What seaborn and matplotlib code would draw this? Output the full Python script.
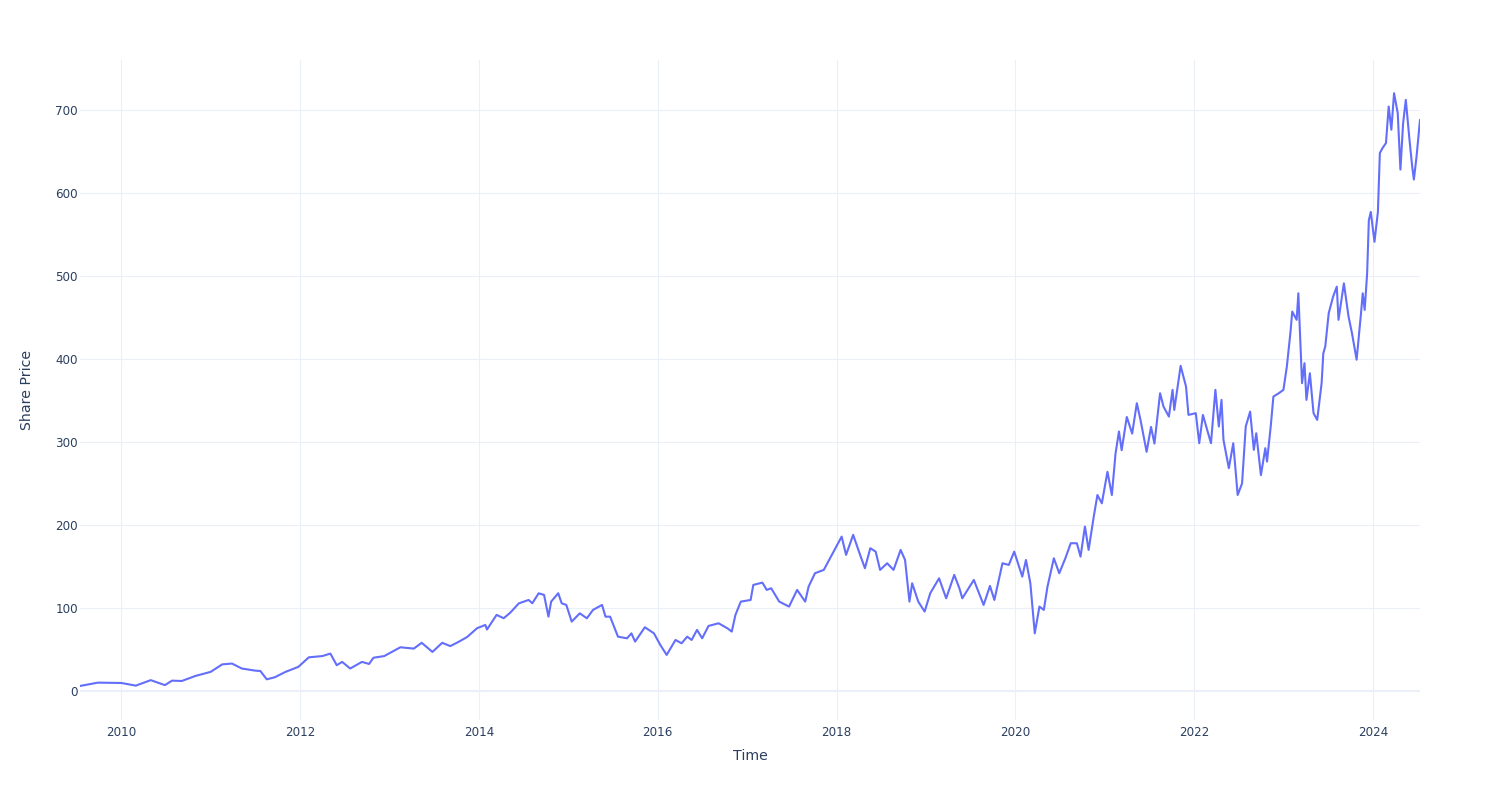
import matplotlib
matplotlib.use("Agg")
import matplotlib.pyplot as plt
import matplotlib.dates as mdates
import pandas as pd
import seaborn as sns

# ---- data ----
dates = [
    "2009-07-16", "2009-09-27", "2010-01-01", "2010-03-01", "2010-05-01", "2010-06-28",
    "2010-07-27", "2010-09-05", "2010-10-30", "2011-01-01", "2011-02-17", "2011-03-29",
    "2011-05-08", "2011-07-01", "2011-07-23", "2011-08-18", "2011-09-20", "2011-11-03",
    "2011-12-25", "2012-02-06", "2012-04-01", "2012-05-04", "2012-05-30", "2012-06-21",
    "2012-07-24", "2012-09-10", "2012-10-09", "2012-10-27", "2012-12-10", "2013-02-14",
    "2013-04-10", "2013-05-12", "2013-06-25", "2013-08-04", "2013-09-06", "2013-10-09",
    "2013-11-14", "2013-12-24", "2014-01-27", "2014-02-03", "2014-03-14", "2014-04-12",
    "2014-05-08", "2014-06-13", "2014-07-23", "2014-08-07", "2014-09-02", "2014-09-24",
    "2014-10-12", "2014-10-23", "2014-11-21", "2014-12-05", "2014-12-24", "2015-01-15",
    "2015-02-17", "2015-03-18", "2015-04-12", "2015-05-19", "2015-06-02", "2015-06-21",
    "2015-07-23", "2015-08-29", "2015-09-16", "2015-10-01", "2015-11-10", "2015-12-17",
    "2016-01-12", "2016-02-07", "2016-03-14", "2016-04-08", "2016-05-01", "2016-05-19",
    "2016-06-10", "2016-07-01", "2016-07-27", "2016-09-06", "2016-10-12", "2016-10-30",
    "2016-11-14", "2016-12-06", "2017-01-15", "2017-01-26", "2017-03-04", "2017-03-22",
    "2017-04-09", "2017-05-12", "2017-06-21", "2017-07-24", "2017-08-26", "2017-09-09",
    "2017-10-05", "2017-11-10", "2017-12-20", "2018-01-22", "2018-02-09", "2018-03-10",
    "2018-04-05", "2018-04-27", "2018-05-19", "2018-06-10", "2018-06-28", "2018-07-27",
    "2018-08-22", "2018-09-20", "2018-10-08", "2018-10-26", "2018-11-06", "2018-12-01",
    "2018-12-27", "2019-01-19", "2019-02-24", "2019-03-25", "2019-04-27", "2019-05-18",
    "2019-05-30", "2019-07-16", "2019-08-25", "2019-09-20", "2019-10-08", "2019-11-10",
    "2019-12-06", "2019-12-28", "2020-01-30", "2020-02-14", "2020-03-03", "2020-03-21",
    "2020-04-09", "2020-04-27", "2020-05-12", "2020-06-07", "2020-06-29", "2020-07-24",
    "2020-08-15", "2020-09-09", "2020-09-24", "2020-10-12", "2020-10-27", "2020-11-17",
    "2020-12-02", "2020-12-20", "2021-01-12", "2021-01-30", "2021-02-14", "2021-02-28",
    "2021-03-11", "2021-04-01", "2021-04-23", "2021-05-12", "2021-05-27", "2021-06-21",
    "2021-07-09", "2021-07-23", "2021-08-15", "2021-08-29", "2021-09-20", "2021-10-05",
    "2021-10-12", "2021-11-07", "2021-11-29", "2021-12-09", "2022-01-08", "2022-01-22",
    "2022-02-06", "2022-03-11", "2022-03-29", "2022-04-12", "2022-04-23", "2022-05-01",
    "2022-05-23", "2022-06-10", "2022-06-28", "2022-07-16", "2022-07-31", "2022-08-18",
    "2022-09-02", "2022-09-12", "2022-10-01", "2022-10-19", "2022-10-26", "2022-11-10",
    "2022-11-21", "2022-12-13", "2023-01-01", "2023-01-15", "2023-01-30", "2023-02-06",
    "2023-02-24", "2023-03-03", "2023-03-18", "2023-03-28", "2023-04-05", "2023-04-19",
    "2023-05-04", "2023-05-19", "2023-06-06", "2023-06-13", "2023-06-21", "2023-07-05",
    "2023-07-23", "2023-08-07", "2023-08-14", "2023-09-05", "2023-09-24", "2023-10-08",
    "2023-10-27", "2023-11-14", "2023-11-21", "2023-11-29", "2023-12-09", "2023-12-16",
    "2023-12-24", "2024-01-08", "2024-01-22", "2024-01-30", "2024-02-10", "2024-02-24",
    "2024-03-06", "2024-03-17", "2024-03-28", "2024-04-12", "2024-04-23", "2024-05-04",
    "2024-05-15", "2024-05-30", "2024-06-10", "2024-06-17", "2024-06-28", "2024-07-12",
]
share_price = [
    6, 10, 9.6, 6.4, 13, 7,
    12.4, 12, 18, 23, 32, 33,
    27, 24.5, 24, 14, 16.5, 23,
    29, 40.5, 42, 45, 31, 35,
    27, 35, 32.5, 40, 42, 52.6,
    51, 58, 47, 58, 54, 59,
    65, 75.5, 79.5, 74, 91.6, 87.6,
    94, 105.5, 109.6, 105.6, 117.6, 115.7,
    89.5, 107.6, 117.7, 105.6, 103.6, 83.5,
    93.5, 87.5, 97.6, 103.6, 89.5, 89.5,
    65.4, 63.4, 69.4, 59.4, 76.7, 69.4,
    55.4, 43.4, 61.4, 57.4, 65.4, 61.4,
    73.5, 63.4, 78.3, 81.5, 75.5, 71.5,
    91.6, 107.6, 109.6, 127.7, 130.5, 121.7,
    123.7, 107.6, 101.6, 121.7, 107.6, 125.7,
    141.8, 145.8, 167.8, 185.9, 163.9, 188,
    165.9, 147.8, 171.9, 167.8, 145.8, 153.8,
    145.8, 169.9, 157.8, 107.6, 129.7, 107.6,
    95.6, 117.7, 135.7, 111.6, 139.8, 123.7,
    111.6, 133.7, 103.6, 126.5, 109.6, 153.8,
    151.8, 167.8, 137.7, 157.8, 129.7, 69.4,
    101.6, 97.6, 125.7, 159.8, 141.8, 159.8,
    177.9, 177.9, 161.8, 198, 169.9, 210,
    236, 226, 264, 236, 286, 312.5,
    290, 330, 310, 346.6, 326.5, 288,
    318, 298, 358.6, 342.5, 330.5, 362.7,
    338.5, 391.6, 366.6, 332.5, 334.6, 298.4,
    332.5, 298.4, 362.7, 318.5, 350.6, 302.4,
    268.3, 298.4, 236, 250, 318.5, 336.5,
    290.4, 310.4, 260, 292.4, 276.3, 318.5,
    354.6, 358.6, 362.7, 390.8, 432.9, 457,
    447, 479, 370.7, 394.8, 350.6, 382.7,
    334.6, 326.5, 370.7, 406.8, 415, 455,
    475, 487, 447, 491, 451, 431,
    399, 455, 479, 459, 503, 567,
    577, 541, 577, 648, 654, 660,
    704, 676, 720, 696, 628, 684,
    712, 664, 632, 616, 644, 688,
]
y_ticks = [0, 100, 200, 300, 400, 500, 600, 700]

df = pd.DataFrame({"Time": pd.to_datetime(dates), "Share Price": share_price})

# ---- styling ----
sns.set_theme(style="white")
plt.rcParams["font.family"] = ["DejaVu Sans"]
text_color = "#2a3f5f"
grid_color = "#EBF0F8"
line_color = "#636EFA"

fig = plt.figure(figsize=(15, 8), dpi=100)
ax = fig.add_axes([80 / 1500, 80 / 800, 1340 / 1500, 660 / 800])
ax.set_facecolor("white")

sns.lineplot(data=df, x="Time", y="Share Price", ax=ax, color=line_color,
             linewidth=1.5, zorder=3)

ax.set_xlim(df["Time"].min(), df["Time"].max())
ax.set_ylim(-35, 760)
ax.set_yticks(y_ticks)
ax.xaxis.set_major_locator(mdates.YearLocator(2))
ax.xaxis.set_major_formatter(mdates.DateFormatter("%Y"))

ax.grid(True, color=grid_color, linewidth=0.75, zorder=0)
ax.axhline(0, color=grid_color, linewidth=1.5, zorder=1)
for s in ax.spines.values():
    s.set_visible(False)

ax.tick_params(axis="both", length=0, labelsize=8.6, labelcolor=text_color)
ax.tick_params(axis="x", pad=4)
ax.tick_params(axis="y", pad=1.5)

ax.set_xlabel("Time", fontsize=10.2, color=text_color, va="center")
ax.xaxis.set_label_coords(0.5, -(756 - 720) / 660)
ax.set_ylabel("Share Price", fontsize=10.2, color=text_color, va="center")
ax.yaxis.set_label_coords(-(80 - 27) / 1340, 0.5)

fig.savefig("out.png", dpi=100, facecolor="white")
